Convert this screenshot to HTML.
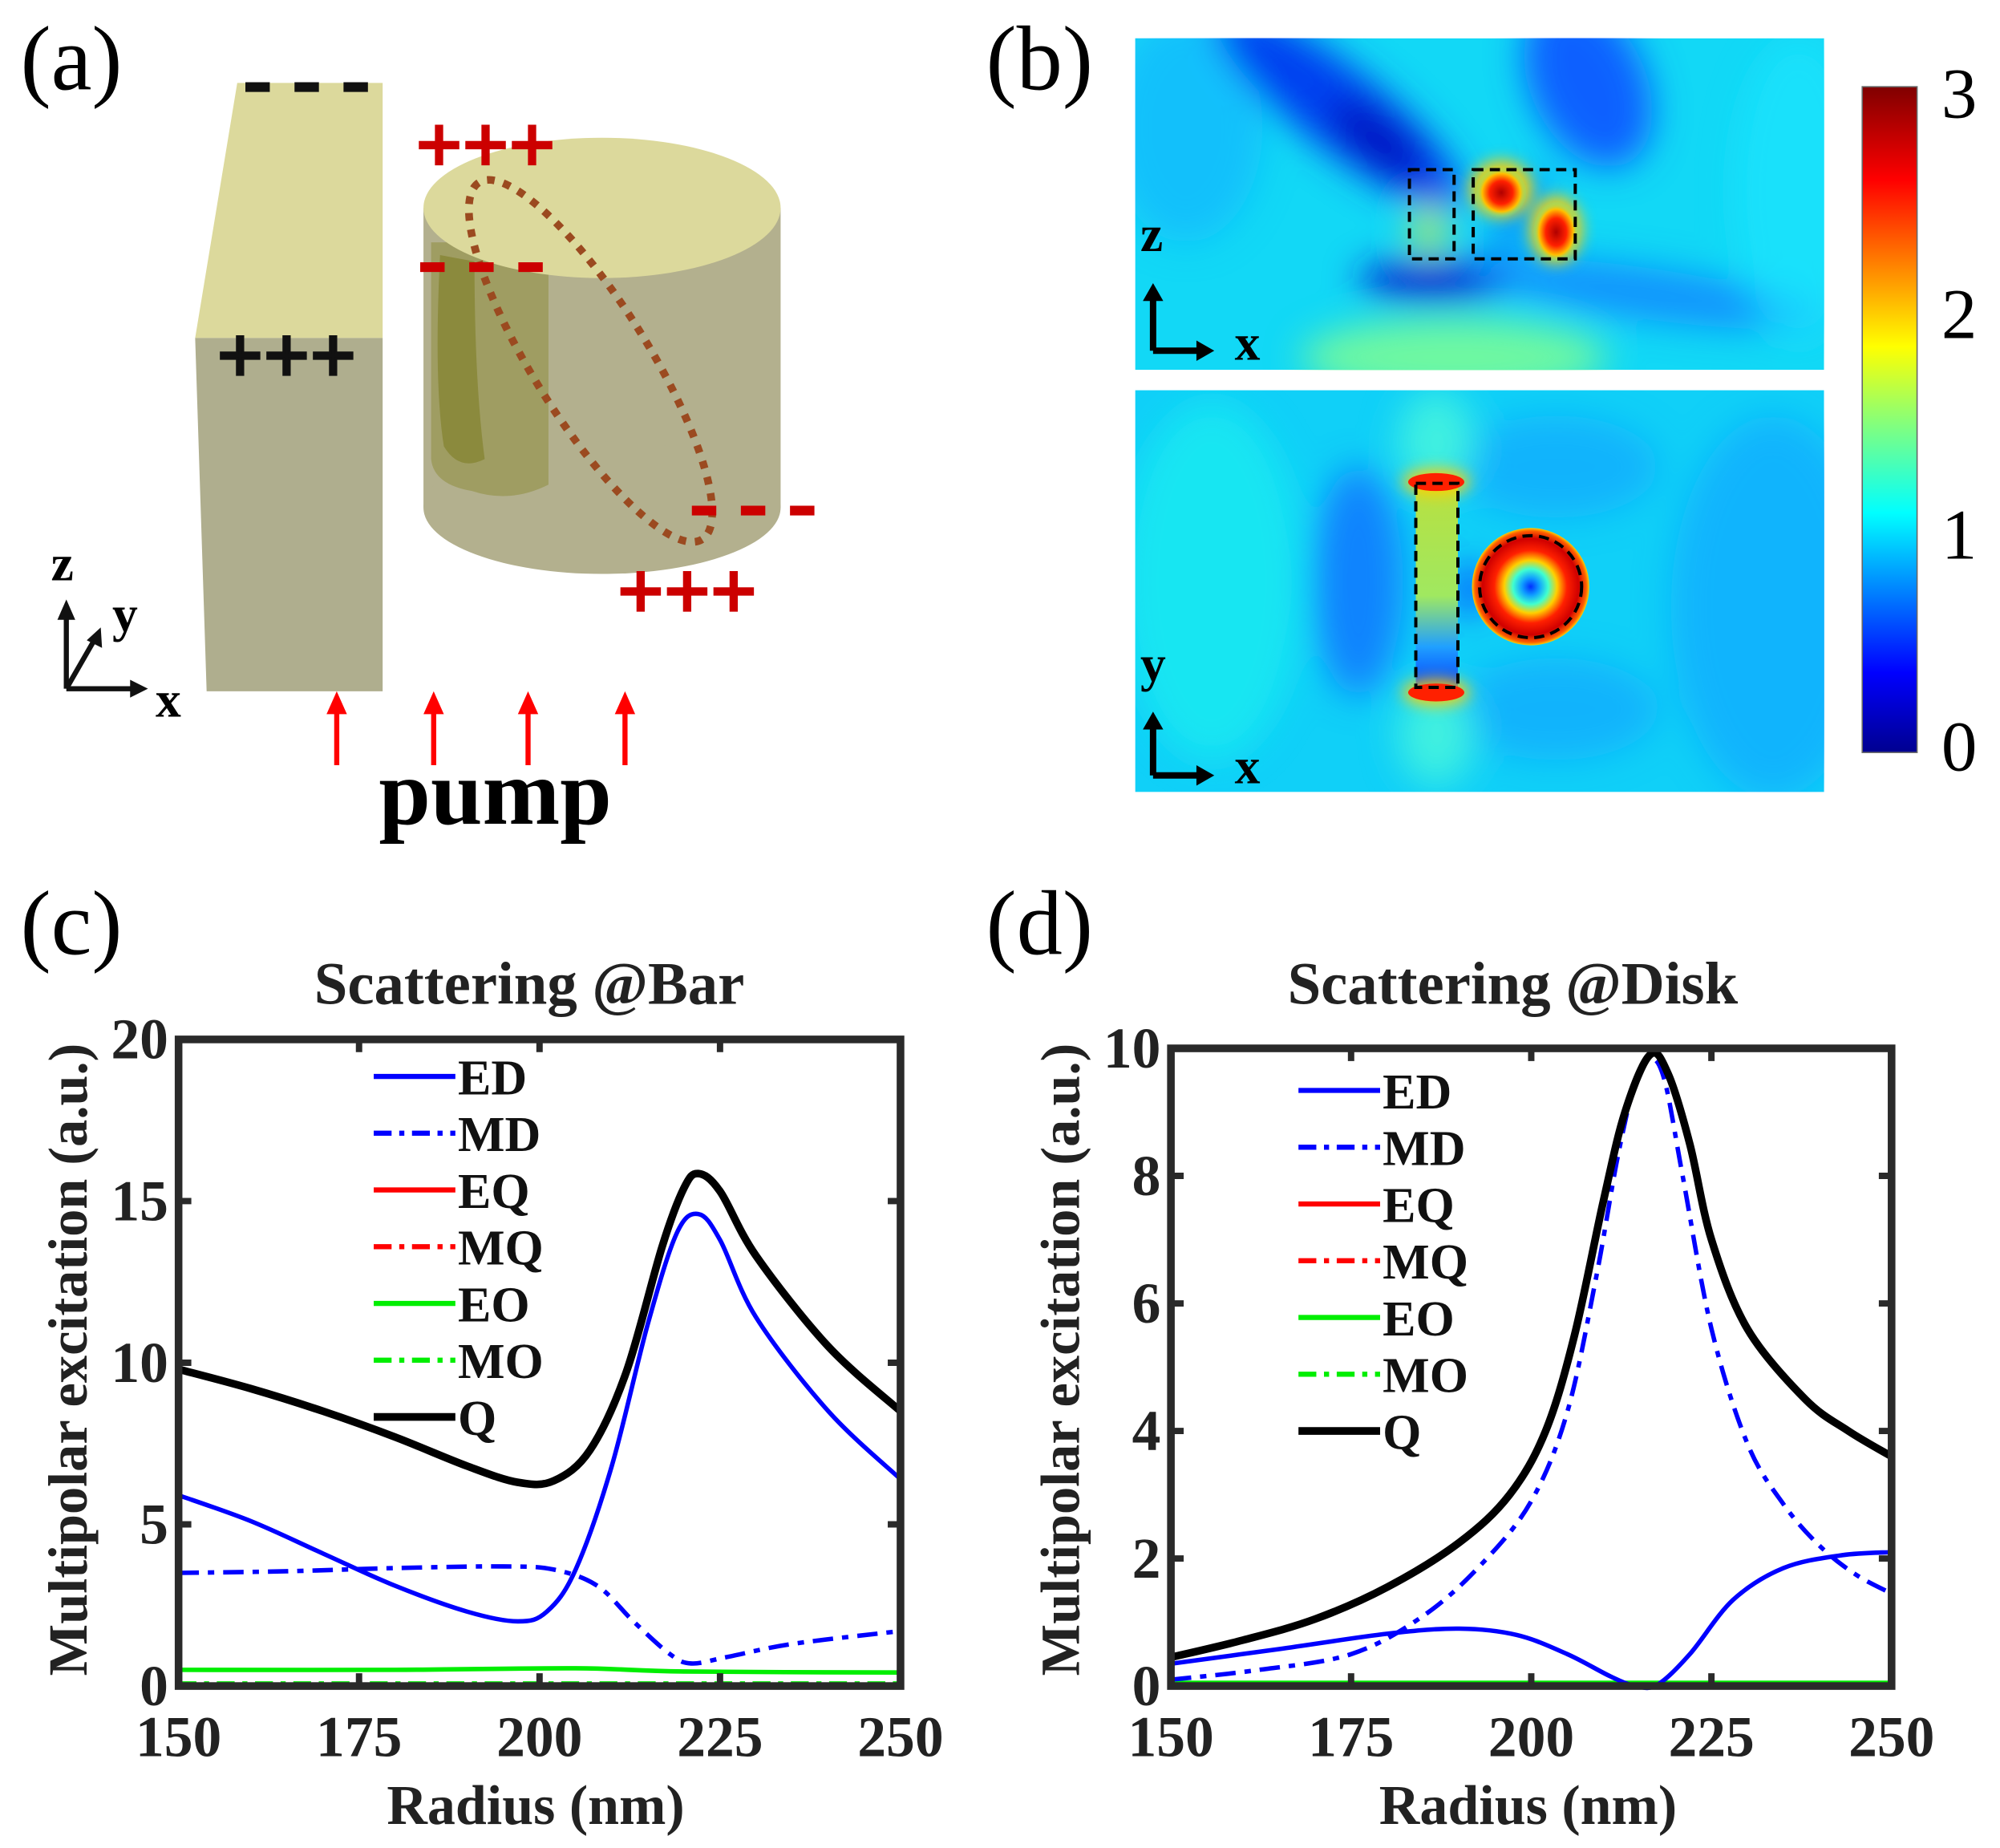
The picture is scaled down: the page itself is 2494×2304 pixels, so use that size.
<!DOCTYPE html>
<html><head><meta charset="utf-8"><style>html,body{margin:0;padding:0;background:#fff}svg{display:block}</style></head>
<body>
<svg id="s" width="2494" height="2304" viewBox="0 0 1568 1449" preserveAspectRatio="none" xmlns="http://www.w3.org/2000/svg" font-family="Liberation Serif, serif">
<defs>
<linearGradient id="jet" x1="0" y1="1" x2="0" y2="0">
<stop offset="0" stop-color="#00008f"/><stop offset="0.12" stop-color="#0000ff"/><stop offset="0.36" stop-color="#00ffff"/><stop offset="0.49" stop-color="#80ff80"/><stop offset="0.61" stop-color="#ffff00"/><stop offset="0.86" stop-color="#ff0000"/><stop offset="1" stop-color="#800000"/>
</linearGradient>
<linearGradient id="barg" x1="0" y1="0" x2="0" y2="1"><stop offset="0" stop-color="#b8e040"/><stop offset="0.55" stop-color="#a0e860"/><stop offset="0.8" stop-color="#20a0ff"/><stop offset="1" stop-color="#0040ff"/></linearGradient>
<radialGradient id="hot"><stop offset="0" stop-color="#b00000"/><stop offset="0.45" stop-color="#ff2000"/><stop offset="0.75" stop-color="#ffc000"/><stop offset="1" stop-color="#40f0c0" stop-opacity="0"/></radialGradient>
<radialGradient id="ring"><stop offset="0" stop-color="#0030ff"/><stop offset="0.15" stop-color="#10a0ff"/><stop offset="0.3" stop-color="#40ffd0"/><stop offset="0.45" stop-color="#ffd000"/><stop offset="0.62" stop-color="#ff2000"/><stop offset="0.82" stop-color="#d00000"/><stop offset="0.95" stop-color="#ff6000"/><stop offset="1" stop-color="#ffd000"/></radialGradient>
<filter id="bl" x="-50%" y="-50%" width="200%" height="200%"><feGaussianBlur stdDeviation="14"/></filter>
<filter id="bl2" x="-50%" y="-50%" width="200%" height="200%"><feGaussianBlur stdDeviation="6"/></filter>
<clipPath id="c1"><rect width="540" height="260"/></clipPath>
<clipPath id="c2"><rect width="540" height="315"/></clipPath>
</defs>
<rect width="1568" height="1449" fill="#fff"/>
<!-- (a) -->
<text x="16" y="70" font-size="72">(a)</text>
<polygon points="186,65 300,65 300,265 153,265" fill="#dcd99c"/>
<polygon points="153,265 300,265 300,542 162,542" fill="#afae8e"/>
<rect x="332" y="163" width="280" height="235" fill="#b3b08e"/>
<ellipse cx="472" cy="398" rx="140" ry="52" fill="#b3b08e"/>
<path d="M338,190 L430,190 L430,380 Q400,395 370,385 Q340,380 338,360 Z" fill="#9a9858" opacity="0.8"/>
<path d="M345,200 Q340,300 348,350 Q360,370 380,360 Q372,300 372,205 Z" fill="#83822e" opacity="0.7"/>
<ellipse cx="472" cy="163" rx="140" ry="55" fill="#dcd99c"/>
<ellipse cx="463" cy="283" rx="165" ry="45" transform="rotate(58 463 283)" fill="none" stroke="#9b4a20" stroke-width="6" stroke-dasharray="6,7"/>
<g font-weight="bold" stroke-width="2">
<text x="191" y="84" font-size="66" fill="#111" stroke="#111">- - -</text>
<text x="170" y="300" font-size="64" fill="#111" stroke="#111">+++</text>
<text x="326" y="135" font-size="64" fill="#c00" stroke="#c00">+++</text>
<text x="328" y="225" font-size="66" fill="#c00" stroke="#c00">- - -</text>
<text x="541" y="416" font-size="66" fill="#c00" stroke="#c00">- - -</text>
<text x="484" y="485" font-size="64" fill="#c00" stroke="#c00">+++</text>
</g>
<g stroke="#111" stroke-width="4" fill="none"><path d="M52,540 L52,478"/><path d="M52,540 L108,540"/><path d="M52,540 L75,500"/></g>
<polygon points="52,470 45,486 59,486" fill="#111"/><polygon points="116,540 102,533 102,547" fill="#111"/><polygon points="79,492 68,502 80,508" fill="#111"/>
<text x="40" y="455" font-size="40" font-weight="bold">z</text><text x="88" y="495" font-size="40" font-weight="bold">y</text><text x="122" y="562" font-size="40" font-weight="bold">x</text>
<g stroke="#f00" stroke-width="4"><path d="M264,600 V555"/><path d="M340,600 V555"/><path d="M414,600 V555"/><path d="M490,600 V555"/></g>
<g fill="#f00"><polygon points="264,542 256,560 272,560"/><polygon points="340,542 332,560 348,560"/><polygon points="414,542 406,560 422,560"/><polygon points="490,542 482,560 498,560"/></g>
<text x="297" y="646" font-size="73" font-weight="bold">pump</text>
<!-- (b) -->
<text x="773" y="70" font-size="72">(b)</text>
<svg x="890" y="30" width="540" height="260" viewBox="0 0 540 260">
<g clip-path="url(#c1)">
<rect width="540" height="260" fill="#12d8f6"/>
<g filter="url(#bl)">
<ellipse cx="250" cy="250" rx="120" ry="30" fill="#70f8a0"/>
<ellipse cx="40" cy="70" rx="60" ry="90" fill="#10b0ff" opacity="0.6"/>
<ellipse cx="160" cy="55" rx="120" ry="32" transform="rotate(38 160 55)" fill="#0040f0"/>
<ellipse cx="190" cy="80" rx="45" ry="18" transform="rotate(38 190 80)" fill="#0010c0"/>
<ellipse cx="355" cy="35" rx="45" ry="70" transform="rotate(-25 355 35)" fill="#1060ff"/>
<ellipse cx="235" cy="190" rx="60" ry="16" fill="#0020d0"/>
<ellipse cx="400" cy="200" rx="140" ry="20" transform="rotate(8 400 200)" fill="#1080ff" opacity="0.8"/>
<ellipse cx="520" cy="120" rx="50" ry="120" fill="#20e8ff" opacity="0.6"/>
<ellipse cx="230" cy="150" rx="12" ry="20" fill="#c0f040"/>
<ellipse cx="300" cy="140" rx="10" ry="40" transform="rotate(30 300 140)" fill="#0040ff" opacity="0.6"/>
</g>
<g filter="url(#bl2)">
<ellipse cx="287" cy="118" rx="24" ry="22" fill="#ffd000"/>
<ellipse cx="330" cy="150" rx="20" ry="26" fill="#ffd000"/>
</g>
<ellipse cx="287" cy="121" rx="20" ry="20" fill="url(#hot)"/>
<ellipse cx="330" cy="152" rx="18" ry="24" fill="url(#hot)"/>
<rect x="215" y="103" width="35" height="70" fill="none" stroke="#000" stroke-width="2.5" stroke-dasharray="8,5"/>
<rect x="265" y="103" width="80" height="70" fill="none" stroke="#000" stroke-width="2.5" stroke-dasharray="8,5"/>
<path d="M14,245 V202 M14,245 H50" stroke="#000" stroke-width="5" fill="none"/>
<polygon points="14,192 6,206 22,206" /><polygon points="62,245 48,237 48,253"/>
<text x="4" y="167" font-size="40" font-weight="bold">z</text><text x="78" y="252" font-size="40" font-weight="bold">x</text>
</g>
</svg>
<svg x="890" y="306" width="540" height="315" viewBox="0 0 540 315">
<g clip-path="url(#c2)">
<rect width="540" height="315" fill="#10d0f8"/>
<g filter="url(#bl)">
<ellipse cx="60" cy="150" rx="70" ry="140" fill="#20f0f0" opacity="0.7"/>
<ellipse cx="500" cy="170" rx="80" ry="150" fill="#10a8ff" opacity="0.7"/>
<ellipse cx="175" cy="150" rx="35" ry="90" fill="#1070ff" opacity="0.8"/>
<ellipse cx="330" cy="60" rx="80" ry="40" fill="#10a0ff" opacity="0.6"/>
<ellipse cx="330" cy="250" rx="80" ry="40" fill="#10a0ff" opacity="0.6"/>
<ellipse cx="236" cy="40" rx="30" ry="40" fill="#40f0e0"/>
<ellipse cx="236" cy="270" rx="30" ry="40" fill="#40f0e0"/>
<ellipse cx="262" cy="156" rx="10" ry="20" fill="#0030ff"/>
</g>
<rect x="220" y="73" width="33" height="160" fill="url(#barg)"/>
<g filter="url(#bl2)"><ellipse cx="236" cy="72" rx="26" ry="10" fill="#ffd000"/><ellipse cx="236" cy="237" rx="26" ry="10" fill="#ffd000"/></g>
<ellipse cx="236" cy="72" rx="22" ry="7" fill="#ff2000"/><ellipse cx="236" cy="237" rx="22" ry="7" fill="#ff2000"/>
<circle cx="310" cy="154" r="46" fill="url(#ring)"/>
<rect x="220" y="73" width="33" height="160" fill="none" stroke="#000" stroke-width="2.5" stroke-dasharray="8,5"/>
<circle cx="310" cy="154" r="40" fill="none" stroke="#000" stroke-width="2.5" stroke-dasharray="8,5"/>
<path d="M14,302 V262 M14,302 H50" stroke="#000" stroke-width="5" fill="none"/>
<polygon points="14,252 6,266 22,266"/><polygon points="62,302 48,294 48,310"/>
<text x="4" y="228" font-size="40" font-weight="bold">y</text><text x="78" y="308" font-size="40" font-weight="bold">x</text>
</g>
</svg>
<rect x="1460" y="68" width="43" height="522" fill="url(#jet)" stroke="#666" stroke-width="1"/>
<g font-size="56"><text x="1522" y="92">3</text><text x="1522" y="265">2</text><text x="1522" y="438">1</text><text x="1522" y="604">0</text></g>
<!-- (c) (d) -->
<text x="16" y="748" font-size="72">(c)</text>
<text x="773" y="748" font-size="72">(d)</text>
<g font-weight="bold" fill="#222">
<text x="415" y="787" text-anchor="middle" font-size="47">Scattering @Bar</text>
<text x="1186" y="787" text-anchor="middle" font-size="47">Scattering @Disk</text>
<text x="420" y="1430" text-anchor="middle" font-size="44">Radius (nm)</text>
<text x="1198" y="1430" text-anchor="middle" font-size="44">Radius (nm)</text>
<text transform="translate(68 1066) rotate(-90)" text-anchor="middle" font-size="43">Multipolar excitation (a.u.)</text>
<text transform="translate(846 1066) rotate(-90)" text-anchor="middle" font-size="43">Multipolar excitation (a.u.)</text>
</g>
<g id="plots"></g>
</svg>
<script>
const NS="http://www.w3.org/2000/svg";const g=document.getElementById('plots');
function el(t,a,txt){const e=document.createElementNS(NS,t);for(const k in a)e.setAttribute(k,a[k]);if(txt!==undefined)e.textContent=txt;g.appendChild(e);return e;}
function cr(pts){let d='M'+pts[0][0]+','+pts[0][1];for(let i=0;i<pts.length-1;i++){const p0=pts[i-1]||pts[i],p1=pts[i],p2=pts[i+1],p3=pts[i+2]||p2;
d+=' C'+(p1[0]+(p2[0]-p0[0])/6)+','+(p1[1]+(p2[1]-p0[1])/6)+' '+(p2[0]-(p3[0]-p1[0])/6)+','+(p2[1]-(p3[1]-p1[1])/6)+' '+p2[0]+','+p2[1];}return d;}
function plot(x0,x1,y0,y1,ymax,yt,series,leg){
 const X=r=>x0+(r-150)/100*(x1-x0),Y=v=>y0-v/ymax*(y0-y1);
 el('rect',{x:x0,y:y1,width:x1-x0,height:y0-y1,fill:'#fff'});
 series.forEach(s=>{const pts=s.p.map(q=>[X(q[0]).toFixed(1),Y(q[1]).toFixed(1)].map(Number));
  el('path',{d:cr(pts),fill:'none',stroke:s.c,'stroke-width':s.w||3.5,'stroke-dasharray':s.da||'none'});});
 el('rect',{x:x0,y:y1,width:x1-x0,height:y0-y1,fill:'none',stroke:'#2a2a2a','stroke-width':6});
 [150,175,200,225,250].forEach(r=>{el('path',{d:`M${X(r)},${y0} v-10 M${X(r)},${y1} v10`,stroke:'#2a2a2a','stroke-width':5});
  el('text',{x:X(r),y:y0+55,'font-size':45,'font-weight':'bold','text-anchor':'middle',fill:'#222'},String(r));});
 yt.forEach(v=>{el('path',{d:`M${x0},${Y(v)} h10 M${x1},${Y(v)} h-10`,stroke:'#2a2a2a','stroke-width':5});
  el('text',{x:x0-8,y:Y(v)+15,'font-size':45,'font-weight':'bold','text-anchor':'end',fill:'#222'},String(v));});
 const L=[['ED','#0000ff','none'],['MD','#0000ff','14,6,4,6'],['EQ','#ff0000','none'],['MQ','#ff0000','14,6,4,6'],['EO','#00ee00','none'],['MO','#00ee00','14,6,4,6'],['Q','#000','none']];
 L.forEach((l,i)=>{const y=leg[1]+i*44.5;el('path',{d:`M${leg[0]},${y} h64`,stroke:l[1],'stroke-width':l[0]=='Q'?6:4,'stroke-dasharray':l[2]});
  el('text',{x:leg[0]+66,y:y+14,'font-size':39,'font-weight':'bold',fill:'#111'},l[0]);});
}
plot(140,706,1322,815,20,[0,5,10,15,20],[
 {c:'#ff0000',p:[[150,0.02],[250,0.02]],da:'14,6,4,6'},
 {c:'#00ee00',p:[[150,0.08],[250,0.08]],da:'14,6,4,6'},
 {c:'#00ee00',p:[[150,0.5],[180,0.5],[205,0.55],[220,0.45],[250,0.42]]},
 {c:'#0000ff',da:'16,7,5,7',p:[[150,3.5],[165,3.55],[180,3.65],[195,3.7],[202,3.6],[208,3.1],[213,2.0],[218,1.0],[221,0.7],[226,0.9],[235,1.3],[250,1.7]]},
 {c:'#0000ff',p:[[150,5.9],[160,5.1],[170,4.1],[180,3.1],[190,2.3],[197,2.0],[201,2.3],[205,3.6],[210,6.8],[215,11.2],[219,14.0],[222,14.6],[225,13.8],[230,11.4],[240,8.5],[250,6.4]]},
 {c:'#000',w:6,p:[[150,9.8],[160,9.2],[170,8.5],[180,7.7],[190,6.8],[197,6.3],[202,6.35],[207,7.3],[212,9.7],[217,13.6],[220,15.4],[222,15.85],[225,15.3],[230,13.3],[240,10.5],[250,8.5]]}
],[293,844]);
plot(918,1483,1322,822,10,[0,2,4,6,8,10],[
 {c:'#ff0000',p:[[150,0.02],[250,0.02]],da:'14,6,4,6'},
 {c:'#00ee00',p:[[150,0.05],[250,0.05]]},
 {c:'#0000ff',da:'16,7,5,7',p:[[150,0.1],[162,0.25],[175,0.5],[185,1.1],[193,1.9],[200,2.9],[205,4.3],[209,6.4],[212,8.3],[214.5,9.5],[216.5,9.85],[218.5,9.5],[221,8.0],[225,5.6],[230,3.8],[235,2.85],[240,2.2],[245,1.75],[250,1.45]]},
 {c:'#0000ff',p:[[150,0.35],[165,0.58],[180,0.82],[190,0.9],[198,0.8],[205,0.5],[211,0.15],[214.5,0.0],[217.5,0.02],[222,0.5],[228,1.35],[235,1.85],[243,2.05],[250,2.1]]},
 {c:'#000',w:6,p:[[150,0.45],[160,0.72],[170,1.05],[180,1.55],[190,2.25],[197,3.0],[202,4.0],[206,5.5],[210,7.6],[213,9.0],[216.5,9.9],[219,9.6],[222,8.5],[225,7.0],[230,5.6],[238,4.5],[244,4.0],[250,3.6]]}
],[1018,855]);
</script>
</body></html>
